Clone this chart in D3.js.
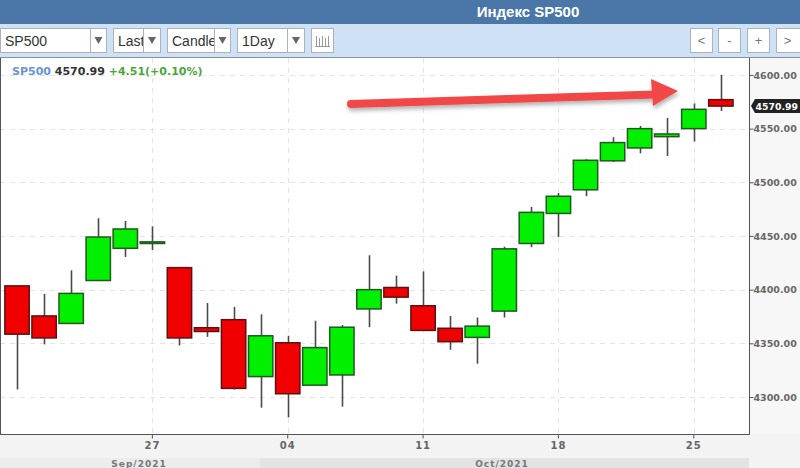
<!DOCTYPE html>
<html>
<head>
<meta charset="utf-8">
<script src="https://cdn.jsdelivr.net/npm/d3@7"></script>
<style>
  html, body { margin: 0; padding: 0; background: #fff; }
  svg { display: block; }
</style>
</head>
<body>
<svg id="chart" width="800" height="468"></svg>
<script>
// ---- data ----
const dates = ["2021-09-20","2021-09-21","2021-09-22","2021-09-23","2021-09-24",
  "2021-09-27","2021-09-28","2021-09-29","2021-09-30","2021-10-01",
  "2021-10-04","2021-10-05","2021-10-06","2021-10-07","2021-10-08",
  "2021-10-11","2021-10-12","2021-10-13","2021-10-14","2021-10-15",
  "2021-10-18","2021-10-19","2021-10-20","2021-10-21","2021-10-22",
  "2021-10-25","2021-10-26"];
const openVals  = [4403.5,4375.5,4368.5,4408.5,4438.5, 4443.0,4420.5,4364.5,4372.0,4319.0,
  4350.5,4311.0,4320.5,4382.0,4402.0, 4385.0,4364.0,4355.5,4380.0,4443.0,
  4471.0,4493.0,4520.0,4532.0,4542.5, 4550.0,4577.0];
const highVals  = [4403.5,4396.0,4418.0,4466.5,4464.0, 4459.0,4420.5,4387.5,4384.0,4377.0,
  4357.0,4371.0,4367.0,4432.0,4413.0, 4417.0,4375.5,4374.0,4440.0,4477.0,
  4490.0,4521.5,4542.0,4552.5,4560.0, 4573.5,4600.0];
const lowVals   = [4307.0,4349.0,4368.5,4408.0,4430.5, 4437.0,4348.0,4356.0,4307.0,4290.0,
  4281.0,4311.0,4291.0,4365.0,4387.0, 4361.5,4344.0,4331.0,4374.0,4439.5,
  4449.0,4487.0,4519.0,4527.0,4524.5, 4538.0,4566.5];
const closeVals = [4358.5,4355.0,4396.5,4449.0,4456.5, 4444.5,4355.0,4361.0,4308.0,4357.0,
  4303.0,4346.0,4365.0,4400.0,4393.0, 4362.0,4351.5,4366.0,4438.0,4472.0,
  4487.0,4520.5,4537.0,4550.0,4545.0, 4568.0,4571.0];
const yTicks = [4300, 4350, 4400, 4450, 4500, 4550, 4600];
const xTickDates = ["2021-09-27","2021-10-04","2021-10-11","2021-10-18","2021-10-25"];
const xTickLabels = ["27","04","11","18","25"];
const monthLabels = ["Sep/2021","Oct/2021"];
const lastPrice = 4570.99;
const legendName = "SP500", legendPrice = "4570.99", legendChange = "+4.51(+0.10%)";
const titleText = "Индекс SP500";
const selects = ["SP500","Last","Candle","1Day"];
const navButtons = ["<","-","+",">"];

// ---- layout ----
const svg = d3.select("#chart");
const plot = {left: 0, right: 749, top: 58, bottom: 434};
const x = d3.scaleBand().domain(dates).range([3.5, 3.5 + 27.07 * dates.length]).paddingInner(0.1).paddingOuter(0.05);
const y = d3.scaleLinear().domain([4265.5, 4615.8]).range([plot.bottom, plot.top]);
const cx = d => x(d) + x.bandwidth() / 2;

// backgrounds
svg.append("rect").attr("x",0).attr("y",0).attr("width",800).attr("height",468).attr("fill","#ffffff");
svg.append("rect").attr("x",0).attr("y",0).attr("width",800).attr("height",24).attr("fill","#4a77a7");
svg.append("rect").attr("x",0).attr("y",24).attr("width",800).attr("height",33).attr("fill","#cfe1f5");
svg.append("line").attr("x1",0).attr("x2",800).attr("y1",57.5).attr("y2",57.5).attr("stroke","#8a9099").attr("stroke-width",1);

svg.append("text").attr("x",528).attr("y",17).attr("text-anchor","middle")
  .attr("font-family","Liberation Sans, Arial, sans-serif").attr("font-weight","bold")
  .attr("font-size",15).attr("fill","#ffffff").text(titleText);

// toolbar selects
const defs = svg.append("defs");
const selBoxes = [[0,107,90],[113,161,143],[167,231,214],[237,305,287]];
selects.forEach((s,i) => {
  const [a,b,dv] = selBoxes[i];
  defs.append("clipPath").attr("id","sc"+i).append("rect").attr("x",a+1).attr("y",28).attr("width",dv-a-1).attr("height",25);
  const g = svg.append("g");
  g.append("rect").attr("x",a+0.5).attr("y",28.5).attr("width",b-a-1).attr("height",24)
    .attr("fill","#fff").attr("stroke","#a9b3bf");
  g.append("line").attr("x1",dv+0.5).attr("x2",dv+0.5).attr("y1",28.5).attr("y2",52.5).attr("stroke","#a9b3bf");
  g.append("text").attr("x",a+5).attr("y",45.5).attr("font-family","Liberation Sans, Arial, sans-serif")
    .attr("font-size",14).attr("fill","#333").attr("clip-path",`url(#sc${i})`).text(s);
  const ax = (dv + b) / 2;
  g.append("path").attr("d",`M${ax-4},37 L${ax+4},37 L${ax},44 Z`).attr("fill","#666");
});
// icon button
svg.append("rect").attr("x",311.5).attr("y",28.5).attr("width",22).attr("height",24).attr("fill","#fff").attr("stroke","#a9b3bf");
const ic = svg.append("g").attr("stroke","#9a9a9a").attr("stroke-width",1);
[316,319,322,325,328].forEach((xx,i)=>{ ic.append("line").attr("x1",xx+0.5).attr("x2",xx+0.5).attr("y1",36+(i%2)*2).attr("y2",46); });
ic.append("line").attr("x1",315).attr("x2",330).attr("y1",46.5).attr("y2",46.5);

// nav buttons
const navX = [690,718,747,776];
navButtons.forEach((t,i)=>{
  svg.append("rect").attr("x",navX[i]+0.5).attr("y",28.5).attr("width",(i===3?24:22)).attr("height",24)
    .attr("fill","#fff").attr("stroke","#a9b3bf");
  svg.append("text").attr("x",navX[i]+11.5).attr("y",45).attr("text-anchor","middle")
    .attr("font-family","Liberation Sans, Arial, sans-serif").attr("font-size",13).attr("fill","#777").text(t);
});

// axis area backgrounds
svg.append("rect").attr("x",0).attr("y",plot.bottom).attr("width",800).attr("height",468-plot.bottom).attr("fill","#f3f3f3");
svg.append("rect").attr("x",plot.right).attr("y",plot.top).attr("width",800-plot.right).attr("height",plot.bottom-plot.top).attr("fill","#f7f7f7");
svg.append("rect").attr("x",0).attr("y",458).attr("width",260).attr("height",10).attr("fill","#ececec");
svg.append("rect").attr("x",260).attr("y",458).attr("width",plot.right-260).attr("height",10).attr("fill","#e3e3e3");

// grid
const grid = svg.append("g").attr("stroke","#e4e4e4").attr("stroke-dasharray","5,5").attr("stroke-width",1);
yTicks.forEach(v => grid.append("line").attr("x1",plot.left).attr("x2",plot.right)
  .attr("y1",Math.round(y(v))+0.5).attr("y2",Math.round(y(v))+0.5));
xTickDates.forEach(d => grid.append("line").attr("x1",Math.round(cx(d))+0.5).attr("x2",Math.round(cx(d))+0.5)
  .attr("y1",plot.top).attr("y2",plot.bottom));

// legend
const leg = svg.append("text").attr("x",12).attr("y",75)
  .attr("font-family","DejaVu Sans, sans-serif").attr("font-weight","bold").attr("font-size",11);
leg.append("tspan").attr("fill","#6b93d6").text(legendName + " ");
leg.append("tspan").attr("fill","#333").text(legendPrice + " ");
leg.append("tspan").attr("fill","#4aa83c").text(legendChange);

// arrow annotation
const f = defs.append("filter").attr("id","sh").attr("x","-10%").attr("y","-50%").attr("width","120%").attr("height","200%");
f.append("feDropShadow").attr("dx",1).attr("dy",3).attr("stdDeviation",2).attr("flood-color","#000").attr("flood-opacity",0.3);
const arr = svg.append("g").attr("filter","url(#sh)");
arr.append("line").attr("x1",351).attr("y1",104).attr("x2",656).attr("y2",94.5)
  .attr("stroke","#f24747").attr("stroke-width",8).attr("stroke-linecap","round");
arr.append("path").attr("d","M651,79 L678,91 L653,106 Z").attr("fill","#f24747");

// candles
const cg = svg.append("g");
dates.forEach((d,i) => {
  const o = openVals[i], h = highVals[i], l = lowVals[i], c = closeVals[i];
  const up = c >= o;
  const xm = Math.round(cx(d)) + 0.5;
  cg.append("line").attr("x1",xm).attr("x2",xm).attr("y1",y(h)).attr("y2",y(l))
    .attr("stroke","#4a4a4a").attr("stroke-width",1.6);
  const top = y(Math.max(o,c)), bot = y(Math.min(o,c));
  cg.append("rect").attr("x",x(d)).attr("y",top).attr("width",x.bandwidth())
    .attr("height",Math.max(1.5, bot-top))
    .attr("fill", up ? "#00f000" : "#f00000")
    .attr("stroke", up ? "#1f5a1f" : "#5c1212").attr("stroke-width",1.5);
});

// plot frame
svg.append("line").attr("x1",0.5).attr("x2",0.5).attr("y1",plot.top).attr("y2",plot.bottom).attr("stroke","#555");
svg.append("line").attr("x1",0).attr("x2",plot.right).attr("y1",plot.bottom+0.5).attr("y2",plot.bottom+0.5).attr("stroke","#555");

// y axis (right)
const yAxis = d3.axisRight(y).tickValues(yTicks).tickFormat(d3.format(".2f")).tickSize(4).tickPadding(0);
const ya = svg.append("g").attr("transform",`translate(${plot.right+0.5},0)`).call(yAxis);
ya.select(".domain").attr("stroke","#555").attr("d",`M0,${plot.top}V${plot.bottom+0.5}H-3`);
ya.selectAll(".tick line").attr("stroke","#555");
ya.selectAll(".tick text").attr("fill","#666").attr("font-family","DejaVu Sans, sans-serif")
  .attr("font-weight","bold").attr("font-size",9.5);

// x axis
const xAxis = d3.axisBottom(x).tickValues(xTickDates).tickFormat((d)=>xTickLabels[xTickDates.indexOf(d)]).tickSize(4).tickPadding(3);
const xa = svg.append("g").attr("transform",`translate(0,${plot.bottom+0.5})`).call(xAxis);
xa.select(".domain").remove();
xa.selectAll(".tick line").attr("stroke","#555");
xa.selectAll(".tick text").attr("fill","#666").attr("font-family","DejaVu Sans, sans-serif")
  .attr("font-weight","bold").attr("font-size",10).attr("letter-spacing","1px");

// month labels
const monthCenters = [139, 502];
monthLabels.forEach((m,i)=>{
  svg.append("text").attr("x",monthCenters[i]).attr("y",466.5).attr("text-anchor","middle")
    .attr("font-family","DejaVu Sans, sans-serif").attr("font-weight","bold").attr("font-size",9)
    .attr("letter-spacing","1px").attr("fill","#777").text(m);
});

// last price tag
const py = y(lastPrice);
svg.append("path").attr("d",`M751,${py} L755,${py-7} L800,${py-7} L800,${py+7} L755,${py+7} Z`).attr("fill","#222");
svg.append("text").attr("x",755.5).attr("y",py+3.5).attr("font-family","DejaVu Sans, sans-serif")
  .attr("font-weight","bold").attr("font-size",9.3).attr("fill","#fff").text(d3.format(".2f")(lastPrice));
</script>
</body>
</html>
